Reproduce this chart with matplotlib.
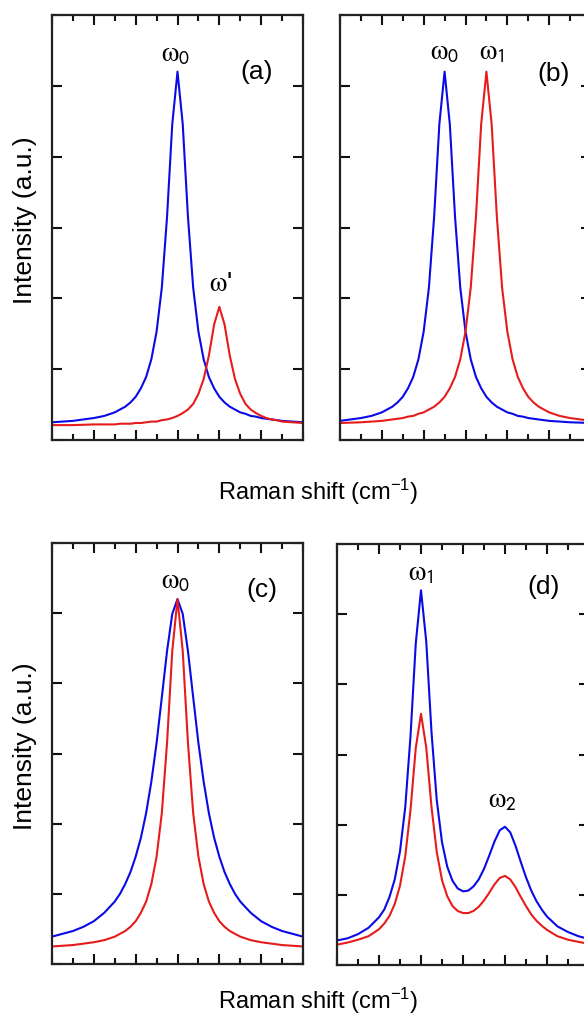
import numpy as np
import matplotlib
matplotlib.use('Agg')
import matplotlib.pyplot as plt
from matplotlib.ticker import MultipleLocator

plt.rcParams['font.family'] = ['Liberation Sans', 'DejaVu Sans']
plt.rcParams['mathtext.fontset'] = 'custom'
plt.rcParams['mathtext.rm'] = 'Liberation Sans'
plt.rcParams['mathtext.sf'] = 'Liberation Sans'
plt.rcParams['mathtext.it'] = 'Liberation Sans:italic'

# (a) single peak w0 (blue) and shifted weak peak w' (red)
xa = [0, 1, 2, 2.5, 3, 3.25, 3.5, 3.75, 4, 4.25, 4.5, 4.75, 5, 5.25, 5.5, 5.75, 6, 6.25, 6.5,
      6.75, 7, 7.25, 7.5, 7.75, 8, 8.25, 8.5, 8.75, 9, 9.25, 9.5, 9.75, 10, 10.25, 10.5, 10.75,
      11, 11.5, 12]
blue_a = [0.25, 0.27, 0.31, 0.34, 0.39, 0.43, 0.47, 0.53, 0.61, 0.73, 0.89, 1.14, 1.53, 2.15,
          3.15, 4.46, 5.2, 4.46, 3.15, 2.15, 1.53, 1.14, 0.89, 0.73, 0.61, 0.53, 0.47, 0.43,
          0.39, 0.37, 0.34, 0.33, 0.31, 0.30, 0.29, 0.28, 0.27, 0.26, 0.25]
red_a = [0.21, 0.21, 0.22, 0.22, 0.22, 0.23, 0.23, 0.23, 0.24, 0.24, 0.25, 0.26, 0.26, 0.28,
         0.29, 0.31, 0.34, 0.38, 0.43, 0.51, 0.65, 0.86, 1.19, 1.63, 1.88, 1.63, 1.19, 0.86,
         0.65, 0.51, 0.43, 0.38, 0.34, 0.31, 0.29, 0.28, 0.26, 0.25, 0.24]

# (b) w0 (blue) and w1 (red), same height
xb = [0, 1, 1.5, 2, 2.25, 2.5, 2.75, 3, 3.25, 3.5, 3.75, 4, 4.25, 4.5, 4.75, 5, 5.25, 5.5,
      5.75, 6, 6.25, 6.5, 6.75, 7, 7.25, 7.5, 7.75, 8, 8.25, 8.5, 8.75, 9, 9.25, 9.5, 9.75,
      10, 10.5, 11, 12]
blue_b = [0.27, 0.31, 0.34, 0.39, 0.43, 0.47, 0.53, 0.61, 0.73, 0.89, 1.14, 1.53, 2.15, 3.15,
          4.46, 5.2, 4.46, 3.15, 2.15, 1.53, 1.14, 0.89, 0.73, 0.61, 0.53, 0.47, 0.43, 0.39,
          0.37, 0.34, 0.33, 0.31, 0.30, 0.29, 0.28, 0.27, 0.26, 0.25, 0.24]
red_b = [0.24, 0.25, 0.26, 0.27, 0.28, 0.29, 0.30, 0.31, 0.33, 0.34, 0.37, 0.39, 0.43, 0.47,
         0.53, 0.61, 0.73, 0.89, 1.14, 1.53, 2.15, 3.15, 4.46, 5.2, 4.46, 3.15, 2.15, 1.53,
         1.14, 0.89, 0.73, 0.61, 0.53, 0.47, 0.43, 0.39, 0.34, 0.31, 0.27]

# (c) broad (blue) and narrow (red) peak at the same position
xc = [0, 0.5, 1, 1.5, 2, 2.5, 3, 3.25, 3.5, 3.75, 4, 4.25, 4.5, 4.75, 5, 5.25, 5.5, 5.75, 6,
      6.25, 6.5, 6.75, 7, 7.25, 7.5, 7.75, 8, 8.25, 8.5, 8.75, 9, 9.5, 10, 10.5, 11, 11.5, 12]
blue_c = [0.39, 0.43, 0.47, 0.53, 0.61, 0.73, 0.89, 1.00, 1.14, 1.31, 1.53, 1.80, 2.15, 2.60,
          3.15, 3.80, 4.46, 4.99, 5.2, 4.99, 4.46, 3.80, 3.15, 2.60, 2.15, 1.80, 1.53, 1.31,
          1.14, 1.00, 0.89, 0.73, 0.61, 0.53, 0.47, 0.43, 0.39]
red_c = [0.25, 0.26, 0.27, 0.29, 0.31, 0.34, 0.39, 0.43, 0.47, 0.53, 0.61, 0.73, 0.89, 1.14,
         1.53, 2.15, 3.15, 4.46, 5.2, 4.46, 3.15, 2.15, 1.53, 1.14, 0.89, 0.73, 0.61, 0.53,
         0.47, 0.43, 0.39, 0.34, 0.31, 0.29, 0.27, 0.26, 0.25]

# (d) two peaks w1, w2, strong (blue) and weak (red)
xd = [0, 0.5, 1, 1.5, 2, 2.25, 2.5, 2.75, 3, 3.25, 3.5, 3.75, 4, 4.25, 4.5, 4.75, 5, 5.25,
      5.5, 5.75, 6, 6.25, 6.5, 6.75, 7, 7.25, 7.5, 7.75, 8, 8.25, 8.5, 8.75, 9, 9.25, 9.5,
      9.75, 10, 10.5, 11, 11.5, 12]
blue_d = [0.35, 0.38, 0.44, 0.53, 0.68, 0.79, 0.97, 1.22, 1.62, 2.25, 3.26, 4.58, 5.34, 4.61,
          3.32, 2.35, 1.75, 1.40, 1.20, 1.09, 1.05, 1.06, 1.12, 1.22, 1.37, 1.56, 1.76, 1.92,
          1.97, 1.89, 1.70, 1.47, 1.25, 1.06, 0.91, 0.79, 0.69, 0.55, 0.47, 0.41, 0.37]
red_d = [0.29, 0.32, 0.36, 0.41, 0.51, 0.59, 0.70, 0.87, 1.13, 1.55, 2.21, 3.09, 3.58, 3.10,
         2.25, 1.61, 1.21, 0.98, 0.84, 0.77, 0.74, 0.74, 0.77, 0.83, 0.92, 1.03, 1.15, 1.24,
         1.27, 1.22, 1.11, 0.97, 0.84, 0.72, 0.63, 0.56, 0.50, 0.41, 0.36, 0.33, 0.30]

BLUE = '#0a0ae6'
RED = '#e61c1c'

fig = plt.figure(figsize=(5.84, 10.16), dpi=100)

def px_axes(l, t, r, b):
    # axes box given in pixels of the 584x1016 picture
    return fig.add_axes([l / 584.0, (1016.0 - b) / 1016.0, (r - l) / 584.0, (b - t) / 1016.0])

ax_a = px_axes(52, 15, 303, 440)
ax_b = px_axes(340, 15, 591, 440)
ax_c = px_axes(52, 543, 303, 964)
ax_d = px_axes(337, 544, 589, 965)

def style(ax):
    ax.set_xlim(0, 12)
    ax.set_ylim(0, 6)
    ax.xaxis.set_major_locator(MultipleLocator(2))
    ax.xaxis.set_minor_locator(MultipleLocator(1))
    ax.yaxis.set_major_locator(MultipleLocator(1))
    ax.tick_params(which='both', direction='in', top=True, right=True,
                   labelbottom=False, labelleft=False, color='#111111', width=1.5)
    ax.tick_params(which='major', length=7)
    ax.tick_params(which='minor', length=4.5)
    for s in ax.spines.values():
        s.set_linewidth(1.6)
        s.set_color('#222222')

omega_kw = dict(fontsize=20, ha='center', va='center', math_fontfamily='stix')
tag_kw = dict(fontsize=19, ha='center', va='center')

ax_a.plot(xa, blue_a, color=BLUE, lw=1.5)
ax_a.plot(xa, red_a, color=RED, lw=1.5)
style(ax_a)
ax_a.text(5.9, 5.45, r'$\mathrm{\omega}_\mathsf{0}$', **omega_kw)
ax_a.text(8.05, 2.2, r"$\mathrm{\omega}$'", **omega_kw)
ax_a.text(9.8, 5.2, '(a)', **tag_kw)

ax_b.plot(xb, blue_b, color=BLUE, lw=1.5)
ax_b.plot(xb, red_b, color=RED, lw=1.5)
style(ax_b)
ax_b.text(5.0, 5.47, r'$\mathrm{\omega}_\mathsf{0}$', **omega_kw)
ax_b.text(7.25, 5.47, r'$\mathrm{\omega}_\mathsf{1}$', **omega_kw)
ax_b.text(10.2, 5.17, '(b)', **tag_kw)

ax_c.plot(xc, blue_c, color=BLUE, lw=1.5)
ax_c.plot(xc, red_c, color=RED, lw=1.5)
style(ax_c)
ax_c.text(5.9, 5.45, r'$\mathrm{\omega}_\mathsf{0}$', **omega_kw)
ax_c.text(10.05, 5.33, '(c)', **tag_kw)

ax_d.plot(xd, blue_d, color=BLUE, lw=1.5)
ax_d.plot(xd, red_d, color=RED, lw=1.5)
style(ax_d)
ax_d.text(4.0, 5.58, r'$\mathrm{\omega}_\mathsf{1}$', **omega_kw)
ax_d.text(7.9, 2.35, r'$\mathrm{\omega}_\mathsf{2}$', **omega_kw)
ax_d.text(9.86, 5.39, '(d)', **tag_kw)

fig.text(25 / 584.0, (1016 - 220) / 1016.0, 'Intensity (a.u.)', rotation=90,
         fontsize=19, ha='center', va='center')
fig.text(25 / 584.0, (1016 - 746) / 1016.0, 'Intensity (a.u.)', rotation=90,
         fontsize=19, ha='center', va='center')
fig.text(318 / 584.0, (1016 - 492) / 1016.0, r'Raman shift (cm$^\mathregular{-1}$)',
         fontsize=17, ha='center', va='center')
fig.text(318 / 584.0, (1016 - 1001) / 1016.0, r'Raman shift (cm$^\mathregular{-1}$)',
         fontsize=17, ha='center', va='center')

fig.savefig('out.png', dpi=100)
